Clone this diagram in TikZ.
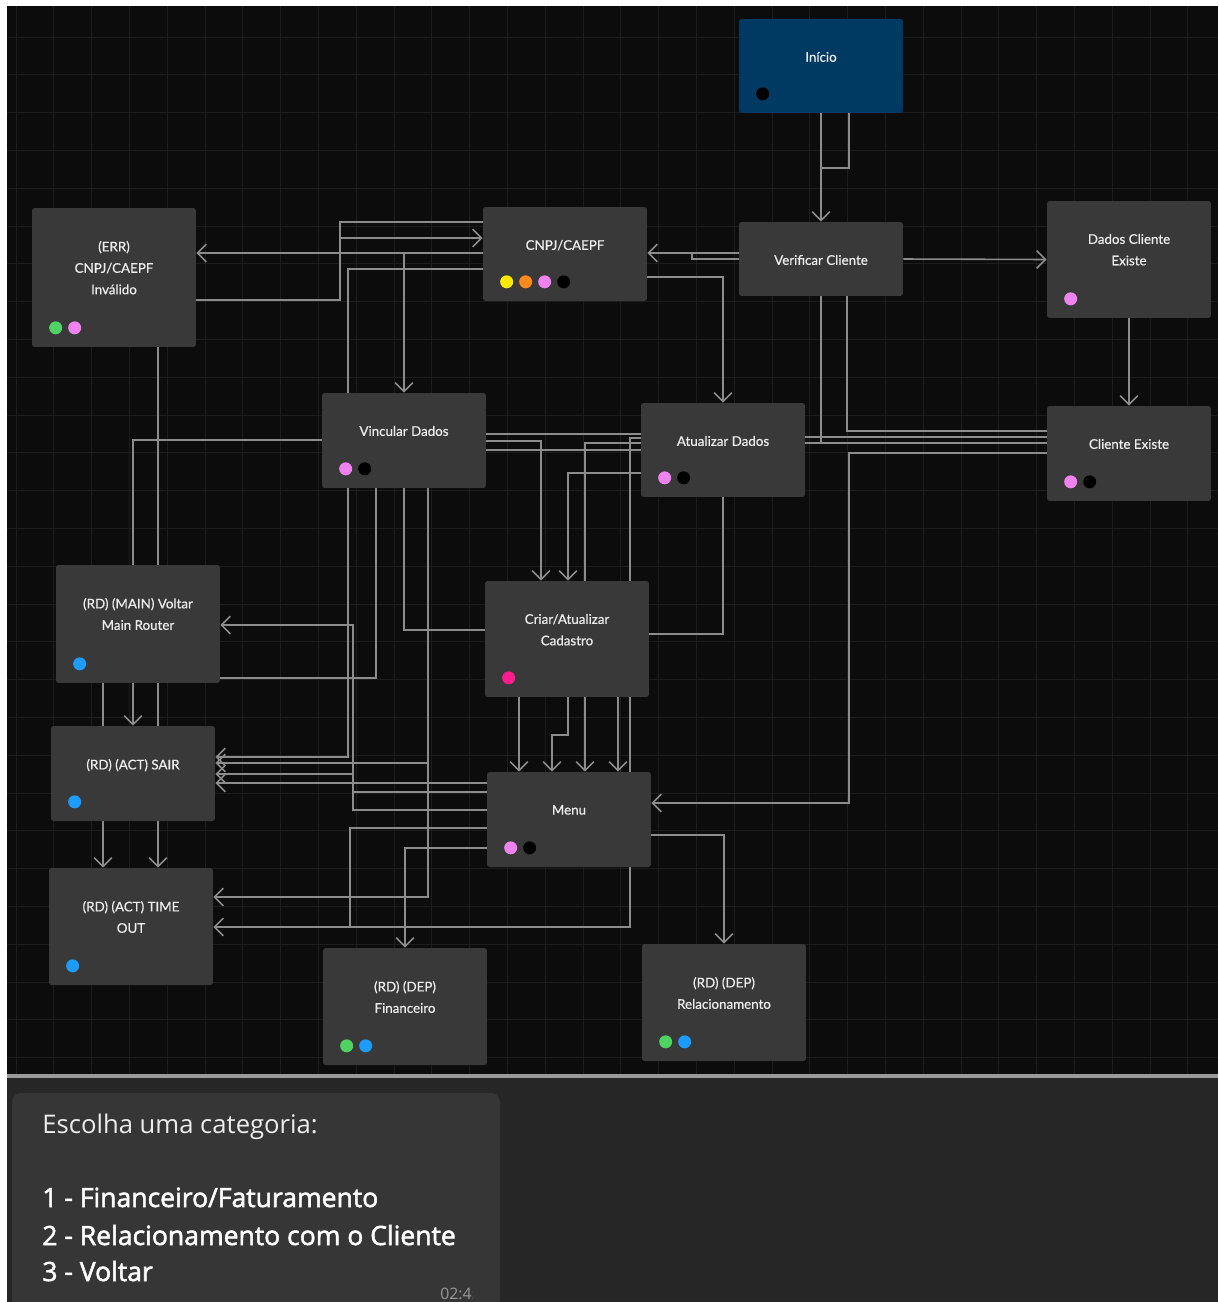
\documentclass[tikz,border=0pt]{standalone}
\usepackage{fontspec}
\setmainfont{Lato}
\newfontfamily\nodefont[FakeBold=0.6]{Lato}
\newfontfamily\chatfont{Open Sans}
\newfontfamily\chatbold[FakeBold=2]{Open Sans}
\usetikzlibrary{arrows.meta,positioning}
\definecolor{canvas}{HTML}{0C0C0C}
\definecolor{gridc}{HTML}{1D1D1D}
\definecolor{boxc}{HTML}{393939}
\definecolor{startc}{HTML}{003A62}
\definecolor{edgec}{HTML}{8C8C8C}
\definecolor{txtc}{HTML}{ECECEC}
\definecolor{sepc}{HTML}{9A9A9A}
\definecolor{chatbg}{HTML}{262626}
\definecolor{bubble}{HTML}{363636}
\definecolor{dyellow}{HTML}{FFE800}
\definecolor{dorange}{HTML}{FF8A1C}
\definecolor{dviolet}{HTML}{EE82EE}
\definecolor{dgreen}{HTML}{4FD262}
\definecolor{dblue}{HTML}{1E9BFF}
\definecolor{dpink}{HTML}{FF1C8D}
\pgfdeclarelayer{bg}
\pgfdeclarelayer{wires}
\pgfsetlayers{bg,wires,main}

\begin{document}
\begin{tikzpicture}[x=0.02cm,y=-0.02cm,
box/.style={fill=boxc,rounded corners=1.5pt,minimum width=3.28cm,inner sep=0pt},
title/.style={anchor=north,yshift=-0.66cm,inner sep=0pt,align=center,text=txtc,
  font=\nodefont\fontsize{7.6}{12.2}\selectfont},
dot/.style={circle,inner sep=0pt,minimum size=0.26cm},
edge/.style={draw=edgec,line width=0.9pt},
>={Straight Barb[length=5pt,width=10pt]},
gridline/.style={draw=gridc,line width=0.5pt},
chatline/.style={anchor=base west,inner sep=0pt,text=white,
  font=\chatbold\fontsize{15.1}{18}\selectfont}]
\useasboundingbox (0,0) rectangle (1218,1302);

% canvas and grid
\begin{pgfonlayer}{bg}
\fill[white] (0,0) rectangle (1218,1302);
\fill[canvas] (7,6) rectangle (1218,1075);
\foreach \gx in {16,53.8,...,1216}
  \draw[gridline] (\gx,6) -- (\gx,1074);
\foreach \gy in {37,74.8,...,1074}
  \draw[gridline] (7,\gy) -- (1218,\gy);
\end{pgfonlayer}

% flow nodes
\node (ini) [box,fill=startc,minimum height=1.88cm,label={[title]north:Início}] at (821,66) {};
\node (vc) [box,minimum height=1.48cm,label={[title]north:Verificar Cliente}] at (821,259) {};
\node (cnpj) [box,minimum height=1.88cm,label={[title]north:CNPJ/CAEPF}] at (565,254) {};
\node (err) [box,minimum height=2.78cm,label={[title]north:{(ERR)\\CNPJ/CAEPF\\Inválido}}] at (114,277.5) {};
\node (dce) [box,minimum height=2.34cm,label={[title]north:{Dados Cliente\\Existe}}] at (1129,259.5) {};
\node (vin) [box,minimum height=1.9cm,label={[title]north:Vincular Dados}] at (404,440.5) {};
\node (atu) [box,minimum height=1.88cm,label={[title]north:Atualizar Dados}] at (723,450) {};
\node (ce) [box,minimum height=1.9cm,label={[title]north:Cliente Existe}] at (1129,453.5) {};
\node (mr) [box,minimum height=2.36cm,label={[title]north:{(RD) (MAIN) Voltar\\Main Router}}] at (138,624) {};
\node (cad) [box,minimum height=2.32cm,label={[title]north:{Criar/Atualizar\\Cadastro}}] at (567,639) {};
\node (sair) [box,minimum height=1.9cm,label={[title]north:(RD) (ACT) SAIR}] at (133,773.5) {};
\node (menu) [box,minimum height=1.9cm,label={[title]north:Menu}] at (569,819.5) {};
\node (tout) [box,minimum height=2.34cm,label={[title]north:{(RD) (ACT) TIME\\OUT}}] at (131,926.5) {};
\node (fin) [box,minimum height=2.34cm,label={[title]north:{(RD) (DEP)\\Financeiro}}] at (405,1006.5) {};
\node (rel) [box,minimum height=2.34cm,label={[title]north:{(RD) (DEP)\\Relacionamento}}] at (724,1002.5) {};

% status dots
\foreach \n/\i/\c in {ini/0/black,cnpj/0/dyellow,cnpj/1/dorange,cnpj/2/dviolet,cnpj/3/black,
    err/0/dgreen,err/1/dviolet,dce/0/dviolet,vin/0/dviolet,vin/1/black,atu/0/dviolet,atu/1/black,
    ce/0/dviolet,ce/1/black,mr/0/dblue,cad/0/dpink,sair/0/dblue,menu/0/dviolet,menu/1/black,
    tout/0/dblue,fin/0/dgreen,fin/1/dblue,rel/0/dgreen,rel/1/dblue}
  \node [dot,fill=\c] at ([shift={({24+19*\i},-19.5)}]\n.south west) {};

% connectors
\begin{pgfonlayer}{wires}
\draw[edge,->] (ini.south) -- (vc.north);
\draw[edge] (ini.south) ++(28,0) |- (vc.north |- 0,168);
\draw[edge,->] (vc.west |- 0,253) -- (cnpj.east |- 0,253);
\draw[edge] (vc.west) -- (692,259) -- (692,253);
\draw[edge,->] (vc.east) -- (dce.west);
\draw[edge,->] (dce.south) -- (ce.north);
\draw[edge] (vc.south) ++(26,0) |- (ce.west |- 0,431);
\draw[edge] (vc.south) |- (atu.east |- 0,443);
\draw[edge] (ce.west |- 0,437) -- (720,437) -- (720,434) -- (vin.east |- 0,434);
\draw[edge] (ce.west |- 0,443) -- (730,443) -- (730,450) -- (vin.east |- 0,450);
\draw[edge,->] (ce.west |- 0,453) -| (849,803) -- (menu.east |- 0,803);
\draw[edge,->] (cnpj.east |- 0,277) -| (atu.north);
\draw[edge,->] (cnpj.west |- 0,253) -- (err.east |- 0,253);
\draw[edge,->] (404,253) -- (vin.north);
\draw[edge] (err.east |- 0,300) -| (340,222) -- (cnpj.west |- 0,222);
\draw[edge,->] (340,238) -- (cnpj.west |- 0,238);
\draw[edge,->] (cnpj.west |- 0,269) -| (348,757) -- (sair.east |- 0,757);
\draw[edge,->] (vin.west |- 0,440) -| (sair.north);
\draw[edge,->] (err.south) ++(44,0) -- (tout.north -| 158,0);
\draw[edge,->] (mr.south -| 103,0) -- (tout.north -| 103,0);
\draw[edge,->] (menu.west |- 0,810) -| (353,625) -- (mr.east |- 0,625);
\draw[edge,->] (menu.west |- 0,792) -| (353,774) -- (sair.east |- 0,774);
\draw[edge,->] (menu.west |- 0,783) -- (sair.east |- 0,783);
\draw[edge,->] (vin.south -| 428,0) |- (sair.east |- 0,763);
\draw[edge,->] (vin.south -| 428,0) |- (tout.east |- 0,897);
\draw[edge] (vin.south -| 376,0) |- (mr.east |- 0,678);
\draw[edge] (vin.south) |- (cad.west |- 0,630);
\draw[edge,->] (atu.west |- 0,438) -| (630,927) -- (tout.east |- 0,927);
\draw[edge] (menu.west |- 0,828) -| (350,927);
\draw[edge,->] (menu.west |- 0,848) -| (fin.north);
\draw[edge,->] (menu.east |- 0,835) -| (rel.north);
\draw[edge,->] (vin.east |- 0,441) -| (cad.north -| 541,0);
\draw[edge,->] (atu.west |- 0,473) -| (cad.north -| 568,0);
\draw[edge,->] (atu.west |- 0,443) -| (menu.north -| 585,0);
\draw[edge] (atu.south) |- (cad.east |- 0,634);
\draw[edge,->] (cad.south -| 519,0) -- (menu.north -| 519,0);
\draw[edge,->] (cad.south -| 568,0) |- (552,735) -- (menu.north -| 552,0);
\draw[edge,->] (cad.south -| 618,0) -- (menu.north -| 618,0);
\end{pgfonlayer}

% chat panel
\fill[sepc] (7,1074) rectangle (1218,1078);
\fill[chatbg] (7,1078) rectangle (1218,1302);
\fill[bubble,rounded corners=5pt] (12,1093) rectangle (500,1330);
\node (ask) [chatline,font=\chatfont\fontsize{14.6}{18}\selectfont,text=txtc] at (42,1133) {Escolha uma categoria:};
\node (opt1) [chatline] at (42,1207) {1 - Financeiro/Faturamento};
\node (opt2) [chatline] at (42,1245) {2 - Relacionamento com o Cliente};
\node (opt3) [chatline] at (42,1281) {3 - Voltar};
\begin{scope}
\clip (430,1270) rectangle (472,1302);
\node (hora) [anchor=base west,inner sep=0pt,text=white!60!black,font=\chatfont\fontsize{9}{11}\selectfont] at (440,1299) {02:45};
\end{scope}
\end{tikzpicture}
\end{document}
